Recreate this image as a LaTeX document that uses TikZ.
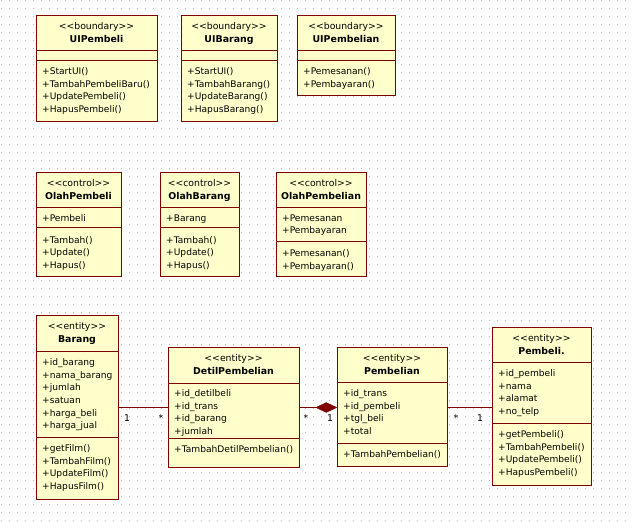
\documentclass[tikz,border=0pt]{standalone}
\usepackage{fontspec}
\setmainfont{DejaVu Sans}
\usetikzlibrary{shapes.geometric}
\definecolor{umlborder}{RGB}{128,0,0}
\definecolor{umlfill}{RGB}{255,255,204}
\definecolor{dotc}{RGB}{185,185,185}
\tikzset{
  classbox/.style={draw=umlborder, fill=umlfill, line width=0.9pt, inner sep=0pt, outer sep=0pt},
  sepline/.style={draw=umlborder, line width=0.9pt},
  stereo/.style={font=\fontsize{9.3}{11}\selectfont, inner sep=0pt, anchor=base},
  ctitle/.style={font=\fontsize{9.4}{12}\selectfont\bfseries, inner sep=0pt, anchor=base},
  member/.style={font=\fontsize{9.1}{11}\selectfont, inner sep=0pt, anchor=base west},
  assoc/.style={draw=umlborder, line width=0.9pt},
  mult/.style={font=\fontsize{9.3}{11}\selectfont, inner sep=0pt, anchor=base},
  compdia/.style={diamond, draw=umlborder, fill=umlborder, inner sep=0pt, minimum width=21pt, minimum height=10pt},
}
% name, left, top, right, bottom, sep1, sep2, stereotype, title
\newcommand\umlbox[9]{%
  \node[classbox, minimum width={#4-#2}, minimum height={#5-#3}] (#1) at ({(#2+#4)/2},{(#3+#5)/2}) {};
  \draw[sepline] (#2,#6) -- (#4,#6);
  \draw[sepline] (#2,#7) -- (#4,#7);
  \node[stereo] (#1-st) at ({(#2+#4)/2},{#3+14.5}) {<{}<#8>{}>};
  \node[ctitle] (#1-ti) at ({(#2+#4)/2},{#3+27.6}) {#9};
}
% name prefix, left, first centre y, list
\newcommand\umllines[4]{%
  \foreach \txt [count=\k] in {#4} {
    \node[member] (#1-\k) at ({#2+6},{#3+3.6+12.6*(\k-1)}) {\txt};
  }
}
\begin{document}
\begin{tikzpicture}[x=1pt,y=-1pt]
\useasboundingbox (0,0) rectangle (633,522);
\fill[white] (0,0) rectangle (633,522);
\foreach \gx in {1,9,...,633} {
  \foreach \gy in {0,8,...,522} {
    \fill[dotc] (\gx,\gy) rectangle ++(1,1);
  }
}

% boundary classes
\umlbox{uipembeli}{36}{15}{157}{121}{50}{60}{boundary}{UIPembeli}
\umllines{uipembeli-o}{36}{71}{+StartUI(),+TambahPembeliBaru(),+UpdatePembeli(),+HapusPembeli()}
\umlbox{uibarang}{181}{15}{277}{121}{50}{60}{boundary}{UIBarang}
\umllines{uibarang-o}{181}{71}{+StartUI(),+TambahBarang(),+UpdateBarang(),+HapusBarang()}
\umlbox{uipembelian}{297}{15}{395}{95}{50}{60}{boundary}{UIPembelian}
\umllines{uipembelian-o}{297}{71}{+Pemesanan(),+Pembayaran()}

% control classes
\umlbox{olahpembeli}{36}{172}{121}{276}{207}{227}{control}{OlahPembeli}
\umllines{olahpembeli-a}{36}{217.5}{+Pembeli}
\umllines{olahpembeli-o}{36}{239.5}{+Tambah(),+Update(),+Hapus()}
\umlbox{olahbarang}{160}{172}{239}{276}{207}{227}{control}{OlahBarang}
\umllines{olahbarang-a}{160}{217.5}{+Barang}
\umllines{olahbarang-o}{160}{239.5}{+Tambah(),+Update(),+Hapus()}
\umlbox{olahpembelian}{276}{172}{366}{276}{207}{241}{control}{OlahPembelian}
\umllines{olahpembelian-a}{276}{217.5}{+Pemesanan,+Pembayaran}
\umllines{olahpembelian-o}{276}{253}{+Pemesanan(),+Pembayaran()}

% entity classes
\umlbox{barang}{36}{315}{118}{499}{351}{437}{entity}{Barang}
\umllines{barang-a}{36}{362}{+id\_barang,+nama\_barang,+jumlah,+satuan,+harga\_beli,+harga\_jual}
\umllines{barang-o}{36}{448}{+getFilm(),+TambahFilm(),+UpdateFilm(),+HapusFilm()}
\umlbox{detil}{168}{347}{299}{467}{383}{438}{entity}{DetilPembelian}
\umllines{detil-a}{168}{393}{+id\_detilbeli,+id\_trans,+id\_barang,+jumlah}
\umllines{detil-o}{168}{449}{+TambahDetilPembelian()}
\umlbox{pembelian}{337}{347}{447}{466}{382}{443}{entity}{Pembelian}
\umllines{pembelian-a}{337}{393}{+id\_trans,+id\_pembeli,+tgl\_beli,+total}
\umllines{pembelian-o}{337}{454}{+TambahPembelian()}
\umlbox{pembeli}{492}{327}{591}{485}{362}{423}{entity}{Pembeli.}
\umllines{pembeli-a}{492}{373}{+id\_pembeli,+nama,+alamat,+no\_telp}
\umllines{pembeli-o}{492}{434}{+getPembeli(),+TambahPembeli(),+UpdatePembeli(),+HapusPembeli()}

% connectors
\coordinate (yl) at (0,407.5);
\draw[assoc] (barang.east |- yl) -- (detil.west |- yl);
\node[compdia, anchor=east] (dia) at (pembelian.west |- yl) {};
\draw[assoc] (detil.east |- yl) -- (dia.west);
\draw[assoc] (pembelian.east |- yl) -- (pembeli.west |- yl);

% multiplicities
\node[mult] (m1) at (127,421) {1};
\node[mult] (m2) at (161,421) {*};
\node[mult] (m3) at (306,421) {*};
\node[mult] (m4) at (330,421) {1};
\node[mult] (m5) at (456,421) {*};
\node[mult] (m6) at (480,421) {1};
\end{tikzpicture}
\end{document}
